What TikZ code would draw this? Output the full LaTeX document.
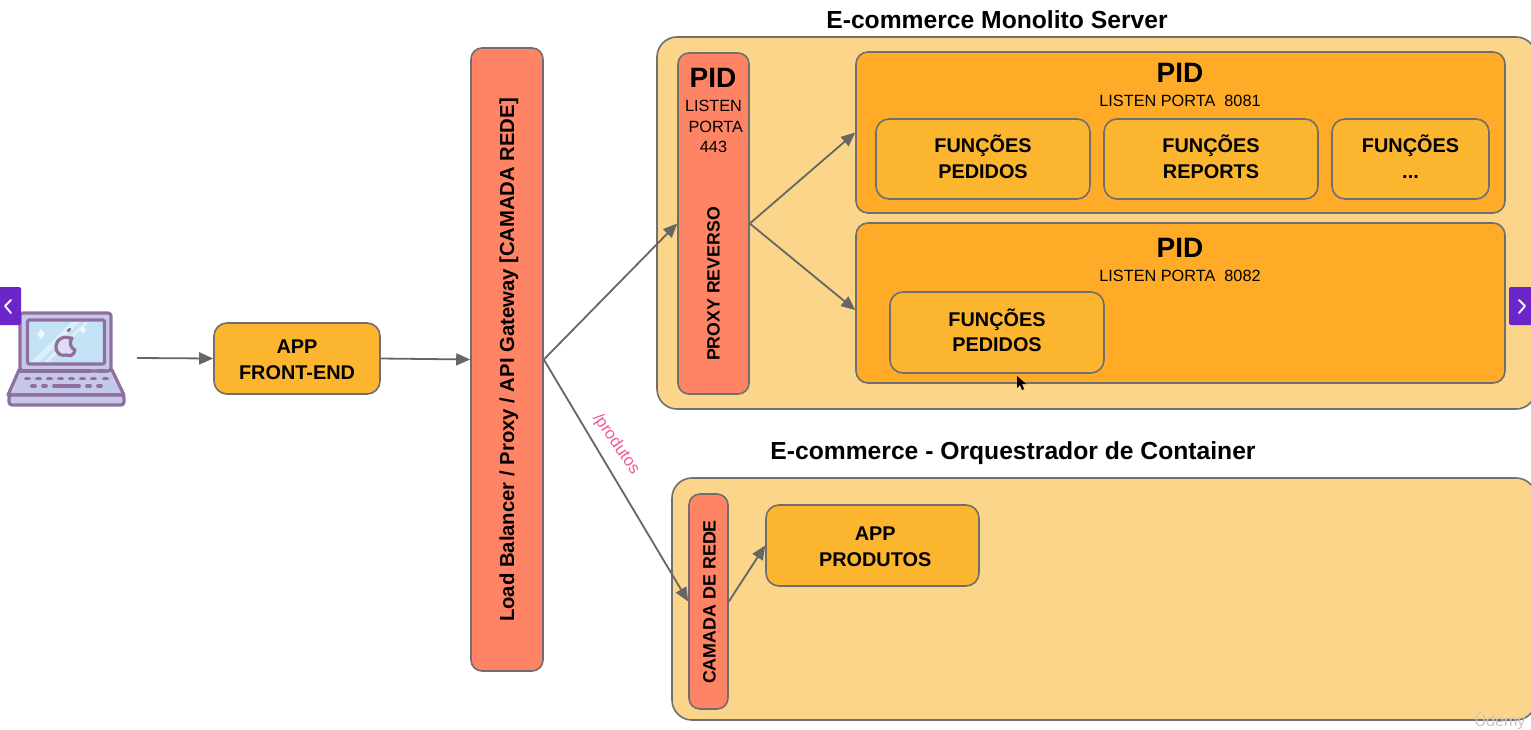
\documentclass[tikz,border=0pt]{standalone}
\usepackage{fontspec}
\setmainfont{Liberation Sans}
\usetikzlibrary{arrows.meta}
\newdimen\px \px=0.75pt
\newcommand\lnstrut{\rule[-3.3pt]{0pt}{15.9pt}}
\newcommand\lnstruthi{\rule[-3.3pt]{0pt}{19pt}}
\newcommand\twolines[2]{\lnstrut #1\\\lnstrut #2}
\definecolor{outerfill}{HTML}{FBD589}
\definecolor{pidfill}{HTML}{FFAB27}
\definecolor{appfill}{HTML}{FBB52F}
\definecolor{redfill}{HTML}{FF8466}
\definecolor{edgegrey}{HTML}{6F6F6F}
\definecolor{connegrey}{HTML}{666666}
\definecolor{pinklabel}{HTML}{F2589A}
\definecolor{navpurple}{HTML}{6A26C8}
\definecolor{lapline}{HTML}{8F6F9F}
\definecolor{lapbody}{HTML}{C6C8EA}
\definecolor{lapscreen}{HTML}{C4E2F6}
\tikzset{
  x=0.75pt,y=-0.75pt,
  box/.style={draw=edgegrey,line width=1.6\px,rounded corners=#1,inner sep=0pt,align=center},
  box/.default=13\px,
  outerbox/.style={box=20\px,fill=outerfill},
  pidbox/.style={box=12\px,fill=pidfill},
  appbox/.style={box=13\px,fill=appfill,font=\bfseries\fontsize{14.9}{19.2}\selectfont},
  redbox/.style={box=11\px,fill=redfill},
  conn/.style={draw=connegrey,line width=1.8\px,-{Triangle[length=10.5pt,width=9pt]}},
  title/.style={font=\bfseries\fontsize{18.5}{22}\selectfont,inner sep=0pt},
  pidtitle/.style={font=\bfseries\fontsize{21}{24}\selectfont,inner sep=0pt},
  small/.style={font=\fontsize{12.2}{15.6}\selectfont,inner sep=0pt,align=center},
  vert/.style={font=\bfseries\fontsize{13.3}{16}\selectfont,rotate=90,inner sep=0pt},
  lapstroke/.style={draw=lapline,line width=3.2\px,line join=round,line cap=round},
  navbtn/.style={fill=navpurple,draw=none,rounded corners=2\px,inner sep=0pt},
}
\begin{document}
\begin{tikzpicture}
\useasboundingbox (0,0) rectangle (1531,729);
\clip (0,0) rectangle (1531,729);
\fill[white] (0,0) rectangle (1531,729);

% outer containers
\node[outerbox,minimum width=879\px,minimum height=372\px] (mono) at (1096.5,223) {};
\node[outerbox,minimum width=864\px,minimum height=242\px] (orch) at (1104,599) {};
\node[title] (t1) at (997,20) {E-commerce Monolito Server};
\node[title] (t2) at (1013,453) {E-commerce - Orquestrador de Container};

% left column
\node[appbox,minimum width=166\px,minimum height=71\px] (app) at (297,358.5) {\lnstruthi APP\\\lnstrut FRONT-END};
\node[redbox,minimum width=72\px,minimum height=623\px] (lb) at (507,359.5) {};
\node[vert,font=\bfseries\fontsize{15.2}{18}\selectfont] (lbt) at (509,360) {Load Balancer / Proxy / API Gateway [CAMADA REDE]};

% proxy
\node[redbox,minimum width=71\px,minimum height=341\px] (proxy) at (713.5,223.5) {};
\node[pidtitle] (proxypid) at (713,78) {PID};
\node[small] (proxylisten) at (713.5,126.5) {LISTEN\\\ PORTA\\443};
\node[vert] (proxyt) at (713.5,284) {PROXY REVERSO};

% pid 8081
\node[pidbox,minimum width=649\px,minimum height=161\px] (pida) at (1180.5,132.5) {};
\node[pidtitle] (pidat) at (1180,73) {PID};
\node[small] (pidal) at (1180,101) {LISTEN PORTA\ \ 8081};
\node[appbox,minimum width=214\px,minimum height=80\px] (fa) at (983,159) {\twolines{FUNÇÕES}{PEDIDOS}};
\node[appbox,minimum width=214\px,minimum height=80\px] (fb) at (1211,159) {\twolines{FUNÇÕES}{REPORTS}};
\node[appbox,minimum width=157\px,minimum height=80\px] (fc) at (1410.5,159) {\twolines{FUNÇÕES}{...}};

% pid 8082
\node[pidbox,minimum width=649\px,minimum height=160\px] (pidb) at (1180.5,303) {};
\node[pidtitle] (pidbt) at (1180,248) {PID};
\node[small] (pidbl) at (1180,276) {LISTEN PORTA\ \ 8082};
\node[appbox,minimum width=214\px,minimum height=81\px] (fd) at (997,332.5) {\twolines{FUNÇÕES}{PEDIDOS}};

% container side
\node[redbox,minimum width=39\px,minimum height=215\px] (cam) at (708.5,601.5) {};
\node[vert,font=\bfseries\fontsize{13.4}{16}\selectfont] (camt) at (709.5,602) {CAMADA DE REDE};
\node[appbox,minimum width=213\px,minimum height=81\px] (prod) at (872.5,545.5) {\hspace*{4pt}\lnstruthi APP\\\hspace*{4pt}\lnstrut PRODUTOS};

% pink label
\node[font=\fontsize{12.5}{15}\selectfont,text=pinklabel,rotate=-55,inner sep=0pt] (lab) at (616,444) {/produtos};

% laptop
\begin{scope}
  \path[lapstroke,fill=lapbody] (19,370) -- (8,395) -- (124,395) -- (112,370) -- cycle;
  \path[lapstroke,fill=lapbody,rounded corners=3\px] (20,371) -- (20,313) -- (111,313) -- (111,371) -- cycle;
  \path[lapstroke,fill=lapscreen,rounded corners=2\px] (27.5,320) rectangle (104.5,364);
  \fill[white,opacity=.45] (31,362) -- (72,322) -- (80,322) -- (39,362) -- cycle;
  \fill[white,opacity=.45] (44,362) -- (85,322) -- (89,322) -- (48,362) -- cycle;
  \fill[white,opacity=.7] (41,329) -- (45,334) -- (41,339) -- (37,334) -- cycle;
  \fill[white,opacity=.7] (83,326) -- (86,330) -- (83,334) -- (80,330) -- cycle;
  \path[lapstroke,fill=lapbody!60!white] (60,339) .. controls (65,335) and (70,339) .. (72,338) .. controls (69,342) and (70,348) .. (75,350) .. controls (73,358) and (68,355) .. (66,355) .. controls (62,356) and (56,355) .. (56,346) .. controls (56,343) and (58,340) .. (60,339) -- cycle;
  \path[lapstroke,line width=2.5\px] (68,331) -- (70,329);
  \path[lapstroke] (20,371) -- (90,371);
  \path[lapstroke] (98,371) -- (105,371);
  \foreach \kx in {26,37,48,59,70,81,92,104}{\path[lapstroke,line width=3.8\px] (\kx,378.5) -- (\kx+3,378.5);}
  \path[lapstroke,line width=3.8\px] (32,386) -- (35,386);
  \path[lapstroke,line width=3.8\px] (43,386) -- (46,386);
  \path[lapstroke,line width=3.8\px] (54,386) -- (79,386);
  \path[lapstroke,line width=3.8\px] (87,386) -- (90,386);
  \path[lapstroke,line width=3.8\px] (98,386) -- (101,386);
  \path[lapstroke,fill=lapbody,rounded corners=3\px] (9,395) rectangle (124,405);
\end{scope}
\coordinate (start) at (137,358);

% connectors
\draw[conn] (start) -- (app.west);
\draw[conn] (app.east) -- (lb.west);
\draw[conn] (lb.east) -- (proxy.west);
\draw[conn] (lb.east) -- (cam.west);
\draw[conn] (proxy.east) -- (pida.west);
\draw[conn] (proxy.east) -- ([yshift=-7\px]pidb.west);
\draw[conn] (cam.east) -- (prod.west);

% navigation buttons
\node[navbtn,minimum width=26\px,minimum height=38\px] (navl) at (8,306) {};
\node[navbtn,minimum width=26\px,minimum height=38\px] (navr) at (1522,306) {};
\draw[white,line width=1.8\px,line cap=round,line join=round] (11,300) -- (5,306) -- (11,313);
\draw[white,line width=1.8\px,line cap=round,line join=round] (1519,300) -- (1525,306) -- (1519,313);

% pointer
\fill[black] (1017,376) -- (1017,388) -- (1020,385) -- (1022,390) -- (1024,389) -- (1022,384) -- (1026,384) -- cycle;

% watermark
\node[text=gray!45,font=\fontsize{12}{14}\selectfont,inner sep=0pt] (wm) at (1500,721) {Ûdemy};
\end{tikzpicture}
\end{document}
